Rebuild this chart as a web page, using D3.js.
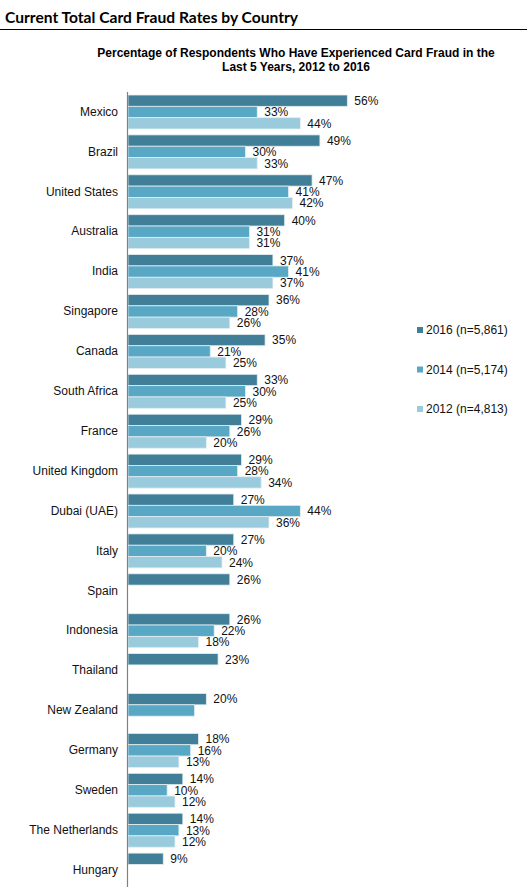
<!DOCTYPE html>
<html>
<head>
<meta charset="utf-8">
<style>
  body { margin: 0; background: #fff; }
  svg { display: block; }
</style>
<script src="https://cdn.jsdelivr.net/npm/d3@7"></script>
</head>
<body>
<svg id="chart" width="527" height="887"></svg>
<script>
  let countries = ["Mexico", "Brazil", "United States", "Australia", "India", "Singapore",
    "Canada", "South Africa", "France", "United Kingdom", "Dubai (UAE)", "Italy", "Spain",
    "Indonesia", "Thailand", "New Zealand", "Germany", "Sweden", "The Netherlands", "Hungary"]

  let series = ["2016", "2014", "2012"]
  let legendLabels = ["2016 (n=5,861)", "2014 (n=5,174)", "2012 (n=4,813)"]

  let values2016 = [56, 49, 47, 40, 37, 36, 35, 33, 29, 29, 27, 27, 26, 26, 23, 20, 18, 14, 14, 9]
  let values2014 = [33, 30, 41, 31, 41, 28, 21, 30, 26, 28, 44, 20, null, 22, null, 17, 16, 10, 13, null]
  let values2012 = [44, 33, 42, 31, 37, 26, 25, 25, 20, 34, 36, 24, null, 18, null, null, 13, 12, 12, null]

  // the NZ 2014 bar has no label in the source
  let unlabeled = ["New Zealand|2014"]

  let colors = { "2016": "#417f99", "2014": "#58a8c5", "2012": "#9acbdd" }

  let svg = d3.select("#chart")

  // header
  svg.append("text")
    .attr("x", 5).attr("y", 23)
    .attr("font-family", "Lato, 'Open Sans', sans-serif")
    .attr("font-weight", "bold")
    .attr("font-size", 15.6)
    .attr("fill", "#000")
    .text("Current Total Card Fraud Rates by Country")

  svg.append("line")
    .attr("x1", 0).attr("x2", 527)
    .attr("y1", 29.5).attr("y2", 29.5)
    .attr("stroke", "#000").attr("stroke-width", 1)

  let subtitle = svg.append("text")
    .attr("text-anchor", "middle")
    .attr("font-family", "Arial, 'Liberation Sans', sans-serif")
    .attr("font-weight", "bold")
    .attr("font-size", 12)
    .attr("fill", "#000")
  subtitle.append("tspan").attr("x", 296).attr("y", 57)
    .text("Percentage of Respondents Who Have Experienced Card Fraud in the")
  subtitle.append("tspan").attr("x", 296).attr("y", 71)
    .text("Last 5 Years, 2012 to 2016")

  // scales
  let margin = { left: 128, top: 92 }
  let step = 39.9
  let x = d3.scaleLinear().domain([0, 60]).range([0, 235])
  let y = d3.scaleBand().domain(countries).range([margin.top, margin.top + step * countries.length])
  let ySub = d3.scaleBand().domain(series).range([3, 37])

  let rows = countries.map((c, i) => ({
    country: c,
    "2016": values2016[i],
    "2014": values2014[i],
    "2012": values2012[i]
  }))

  let groups = svg.append("g").selectAll("g")
    .data(rows)
    .enter().append("g")
    .attr("transform", d => `translate(${margin.left},${y(d.country)})`)

  let cells = groups.selectAll("g")
    .data(d => series.filter(s => d[s] != null).map(s => ({ country: d.country, key: s, value: d[s] })))
    .enter().append("g")

  cells.append("rect")
    .attr("x", 0)
    .attr("y", d => ySub(d.key))
    .attr("width", d => x(d.value))
    .attr("height", ySub.bandwidth())
    .attr("fill", d => colors[d.key])
    .attr("stroke", "#e4eef2")
    .attr("stroke-width", 0.8)

  cells.filter(d => unlabeled.indexOf(d.country + "|" + d.key) < 0)
    .append("text")
    .attr("x", d => x(d.value) + 7)
    .attr("y", d => ySub(d.key) + ySub.bandwidth() / 2)
    .attr("dy", "0.36em")
    .attr("font-family", "Arial, 'Liberation Sans', sans-serif")
    .attr("font-size", 12)
    .attr("fill", "#111")
    .text(d => d.value + "%")

  // category axis
  let axisY = d3.axisLeft(y).tickSize(0).tickPadding(10)
  let axisG = svg.append("g")
    .attr("transform", `translate(${margin.left},0)`)
    .call(axisY)
  axisG.select(".domain").remove()
  axisG.selectAll("text")
    .attr("font-family", "Arial, 'Liberation Sans', sans-serif")
    .attr("font-size", 12)
    .attr("fill", "#111")

  svg.append("line")
    .attr("x1", margin.left - 0.5).attr("x2", margin.left - 0.5)
    .attr("y1", margin.top).attr("y2", 887)
    .attr("stroke", "#808080").attr("stroke-width", 1.2)

  // legend
  let legend = svg.append("g").selectAll("g")
    .data(series)
    .enter().append("g")
    .attr("transform", (d, i) => `translate(417,${327 + i * 39.5})`)

  legend.append("rect")
    .attr("width", 6).attr("height", 6)
    .attr("fill", d => colors[d])

  legend.append("text")
    .attr("x", 9).attr("y", 3)
    .attr("dy", "0.36em")
    .attr("font-family", "Arial, 'Liberation Sans', sans-serif")
    .attr("font-size", 12)
    .attr("fill", "#111")
    .text((d, i) => legendLabels[i])
</script>
</body>
</html>
